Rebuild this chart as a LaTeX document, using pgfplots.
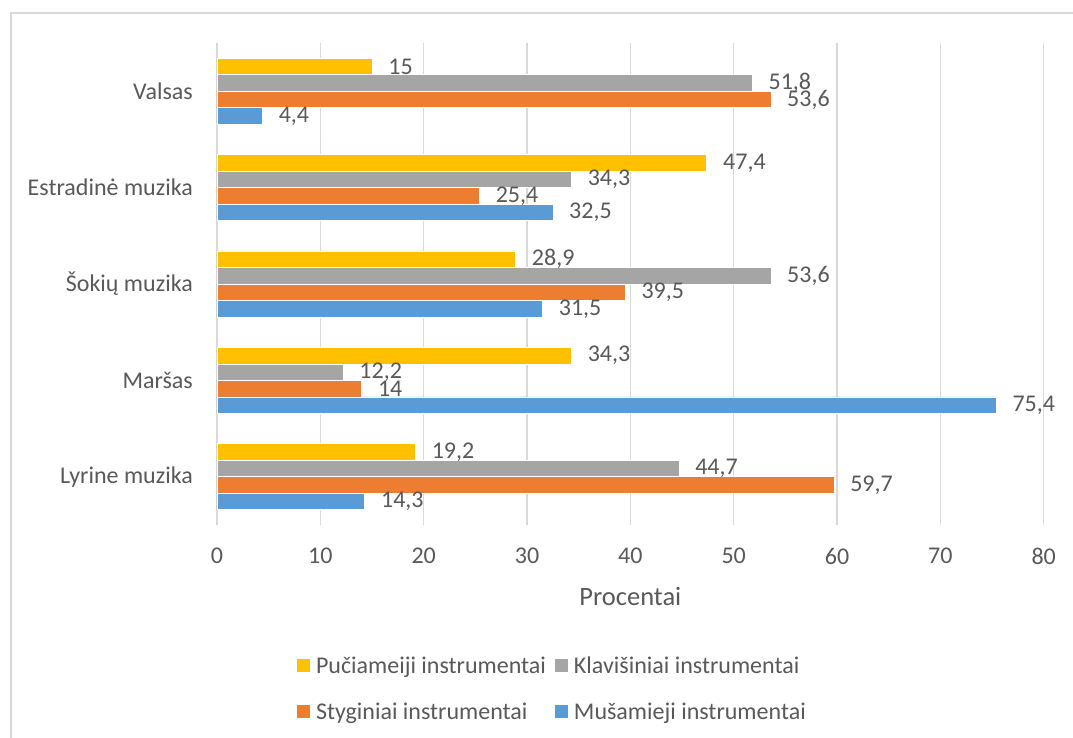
\documentclass[border=0pt]{standalone}
\usepackage{fontspec}
\setmainfont{Carlito}
\usepackage{pgfplots}
\pgfplotsset{compat=1.18}
\definecolor{cY}{HTML}{FFC000}
\definecolor{cG}{HTML}{A5A5A5}
\definecolor{cO}{HTML}{ED7D31}
\definecolor{cB}{HTML}{5B9BD5}
\definecolor{cText}{HTML}{595959}
\definecolor{cGrid}{HTML}{D9D9D9}
\begin{document}
\begin{tikzpicture}
\useasboundingbox (0,0) rectangle (1073pt,738pt);
\fill[white] (0,0) rectangle (1073pt,738pt);
\draw[cGrid, line width=1.3pt] (11pt,-20pt) -- (11pt,725pt) -- (1100pt,725pt);
\begin{axis}[
  at={(217pt,213pt)}, anchor=south west,
  scale only axis, width=826.7pt, height=482pt,
  xbar, bar width=0.171,
  xmin=0, xmax=80, ymin=-0.5, ymax=4.5,
  xtick={0,10,...,80},
  ytick={0,1,2,3,4},
  yticklabels={Lyrine muzika, Maršas, Šokių muzika, Estradinė muzika, Valsas},
  xmajorgrids, ymajorgrids=false,
  major grid style={draw=cGrid, line width=1.5pt},
  axis line style={draw=none},
  major tick length=0pt,
  tick label style={font=\fontsize{24}{28}\selectfont, text=cText, inner sep=0pt},
  xticklabel style={anchor=north, yshift=-23pt},
  yticklabel style={anchor=east, xshift=-24pt},
  xlabel={Procentai},
  xlabel style={font=\fontsize{26.5}{30}\selectfont, text=cText, inner sep=0pt,
    at={(axis description cs:0.5,0)}, anchor=north, yshift=-62pt},
  /pgf/number format/assume math mode=true,
  /pgf/number format/use comma,
  nodes near coords, point meta=x,
  every node near coord/.append style={anchor=west, inner sep=0pt, xshift=16pt,
    font=\fontsize{24}{28}\selectfont, text=cText},
  legend columns=2,
  legend style={at={(axis description cs:0.0968,-0.2718)}, anchor=north west,
    draw=none, inner sep=0pt, outer sep=0pt, row sep=23pt,
    font=\fontsize{24}{28}\selectfont, text=cText,
    nodes={inner sep=0pt, text height=17pt, text depth=6pt},
    /tikz/every odd column/.append style={column sep=6pt},
    /tikz/every even column/.append style={column sep=9pt}},
  legend cell align=left,
  legend image code/.code={\fill[#1, draw=none] (0pt,-4.5pt) rectangle (13pt,8.5pt);},
]
\addplot[fill=cY, draw=white, line width=0.7pt, bar shift=0.2568]
  coordinates {(19.2,0) (34.3,1) (28.9,2) (47.4,3) (15,4)};
\addplot[fill=cG, draw=white, line width=0.7pt, bar shift=0.0856]
  coordinates {(44.7,0) (12.2,1) (53.6,2) (34.3,3) (51.8,4)};
\addplot[fill=cO, draw=white, line width=0.7pt, bar shift=-0.0856]
  coordinates {(59.7,0) (14,1) (39.5,2) (25.4,3) (53.6,4)};
\addplot[fill=cB, draw=white, line width=0.7pt, bar shift=-0.2568]
  coordinates {(14.3,0) (75.4,1) (31.5,2) (32.5,3) (4.4,4)};
\legend{Pučiameiji instrumentai, Klavišiniai instrumentai, Styginiai instrumentai, Mušamieji instrumentai}
\end{axis}
\end{tikzpicture}
\end{document}
